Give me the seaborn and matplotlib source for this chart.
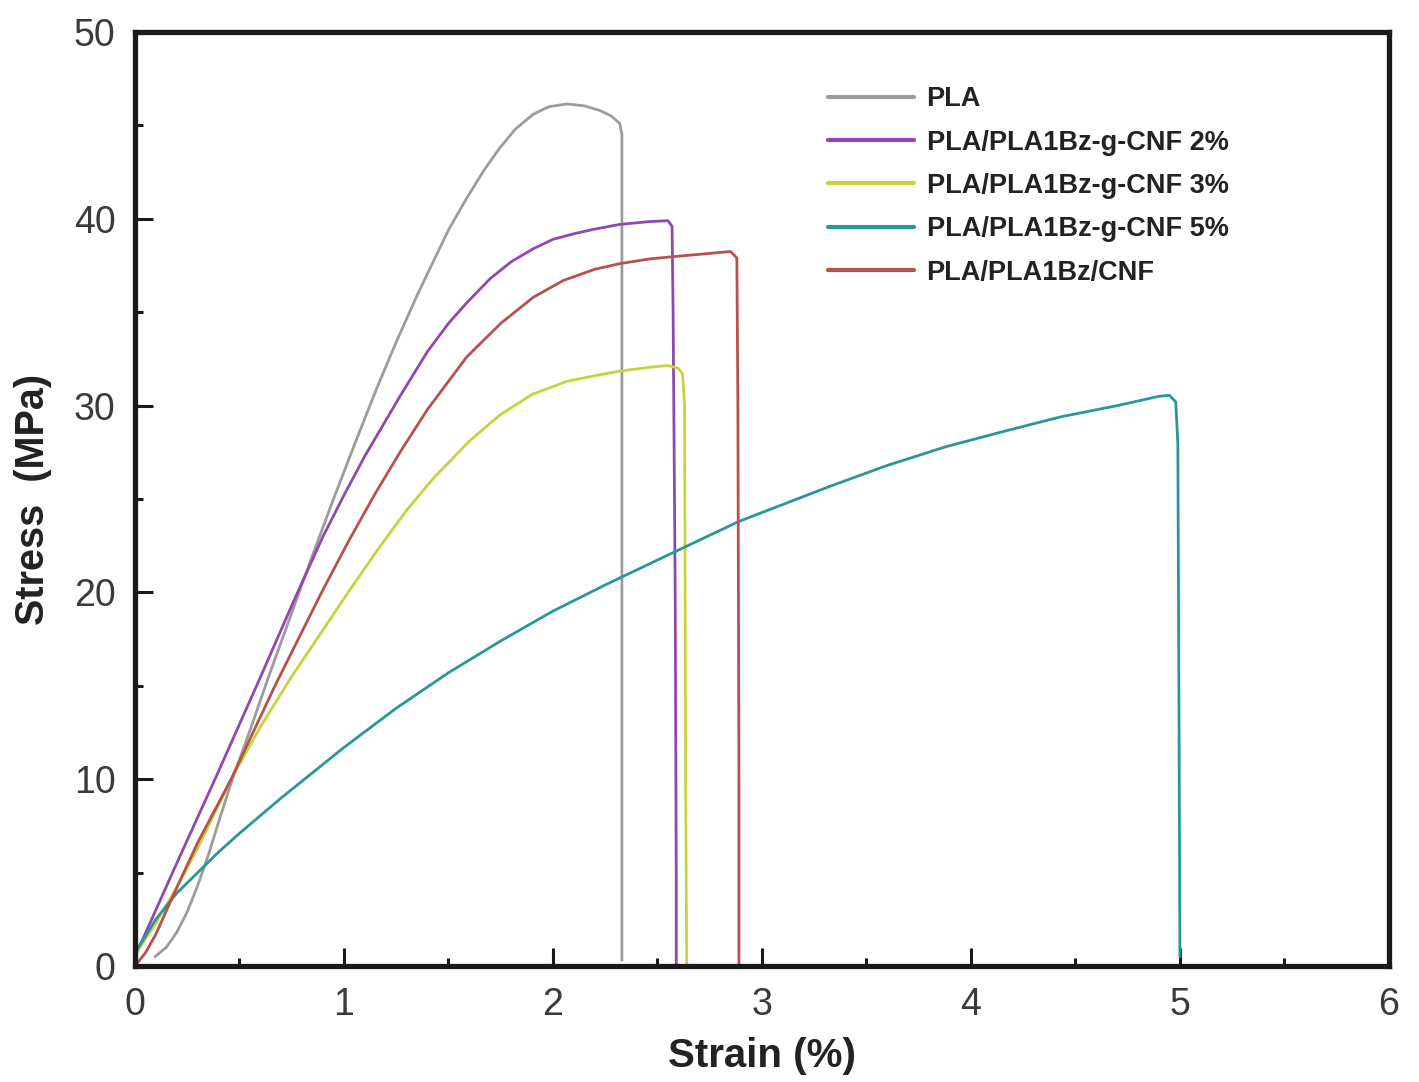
import numpy as np
import pandas as pd
import matplotlib
matplotlib.use("Agg")
import matplotlib.pyplot as plt
import seaborn as sns
from matplotlib.ticker import MultipleLocator

# stress-strain curves (strain %, stress MPa)
pla_x = [0.096, 0.15, 0.20, 0.25, 0.30, 0.35, 0.40, 0.46, 0.55, 0.64, 0.75, 0.85, 0.95, 1.05, 1.156, 1.25, 1.35,
         1.427, 1.50, 1.587, 1.67, 1.746, 1.82, 1.906, 1.98, 2.066, 2.15, 2.225, 2.28, 2.32, 2.33, 2.33]
pla_y = [0.5, 1.0, 1.8, 2.9, 4.3, 5.9, 7.7, 9.8, 12.6, 15.5, 18.9, 22.0, 25.0, 27.9, 30.9, 33.4, 35.9,
         37.7, 39.4, 41.1, 42.6, 43.8, 44.8, 45.6, 46.0, 46.15, 46.05, 45.8, 45.5, 45.1, 44.5, 0.3]

cnf2_x = [0.00, 0.10, 0.20, 0.383, 0.59, 0.766, 0.90, 1.00, 1.10, 1.268, 1.40, 1.50, 1.587, 1.70, 1.80, 1.906,
          2.00, 2.10, 2.20, 2.32, 2.46, 2.55, 2.57, 2.575, 2.585, 2.59, 2.59]
cnf2_y = [0.5, 3.0, 5.5, 10.0, 15.2, 19.7, 23.0, 25.2, 27.3, 30.5, 32.9, 34.4, 35.5, 36.8, 37.7, 38.4,
          38.9, 39.2, 39.45, 39.7, 39.85, 39.9, 39.6, 35.0, 20.0, 5.0, 0.0]

cnf3_x = [0.00, 0.10, 0.20, 0.30, 0.46, 0.60, 0.75, 0.90, 1.02, 1.156, 1.30, 1.427, 1.60, 1.746, 1.90, 2.066,
          2.20, 2.32, 2.46, 2.55, 2.60, 2.62, 2.63, 2.635, 2.64]
cnf3_y = [0.6, 2.3, 4.2, 6.3, 10.0, 12.8, 15.5, 18.0, 20.0, 22.2, 24.4, 26.1, 28.1, 29.5, 30.6, 31.3,
          31.6, 31.85, 32.05, 32.15, 32.0, 31.7, 30.0, 10.0, 0.0]

cnf5_x = [0.00, 0.05, 0.10, 0.20, 0.30, 0.40, 0.50, 0.70, 0.90, 1.00, 1.25, 1.50, 1.75, 2.00, 2.25, 2.55, 2.89,
          3.33, 3.60, 3.88, 4.15, 4.43, 4.70, 4.90, 4.95, 4.98, 4.99, 4.995, 5.00]
cnf5_y = [0.7, 1.6, 2.5, 3.9, 5.0, 6.1, 7.1, 9.0, 10.8, 11.7, 13.8, 15.7, 17.4, 19.0, 20.4, 22.0, 23.8,
          25.7, 26.8, 27.8, 28.6, 29.4, 30.0, 30.5, 30.55, 30.2, 28.0, 15.0, 0.5]

blend_x = [0.00, 0.05, 0.10, 0.20, 0.30, 0.46, 0.67, 0.893, 1.02, 1.15, 1.268, 1.40, 1.587, 1.75, 1.906, 2.05,
           2.20, 2.32, 2.46, 2.60, 2.75, 2.85, 2.88, 2.885, 2.89, 2.89]
blend_y = [0.0, 0.7, 1.7, 4.2, 6.6, 10.0, 15.0, 20.0, 22.7, 25.3, 27.5, 29.8, 32.6, 34.4, 35.8, 36.7,
           37.3, 37.6, 37.85, 38.0, 38.15, 38.25, 37.9, 30.0, 10.0, 0.0]

labels = ["PLA", "PLA/PLA1Bz-g-CNF 2%", "PLA/PLA1Bz-g-CNF 3%", "PLA/PLA1Bz-g-CNF 5%", "PLA/PLA1Bz/CNF"]
colors = ["#9c9c9c", "#9147b0", "#c6d43c", "#27979a", "#b8504c"]
series = [(pla_x, pla_y), (cnf2_x, cnf2_y), (cnf3_x, cnf3_y), (cnf5_x, cnf5_y), (blend_x, blend_y)]

sns.set_style("ticks")
plt.rcParams["font.family"] = ["Liberation Sans", "DejaVu Sans"]

fig = plt.figure(figsize=(14.19, 10.82), dpi=100)
ax = fig.add_axes([0.0951, 0.1072, 0.8837, 0.8632])

for (xs, ys), lab, col in zip(series, labels, colors):
    df = pd.DataFrame({"strain": xs, "stress": ys})
    sns.lineplot(data=df, x="strain", y="stress", sort=False, estimator=None,
                 color=col, linewidth=2.0, label=lab, ax=ax)

ax.set_xlim(0, 6)
ax.set_ylim(0, 50)
ax.xaxis.set_major_locator(MultipleLocator(1))
ax.xaxis.set_minor_locator(MultipleLocator(0.5))
ax.yaxis.set_major_locator(MultipleLocator(10))
ax.yaxis.set_minor_locator(MultipleLocator(5))

for sp in ax.spines.values():
    sp.set_linewidth(3.8)
    sp.set_color("#1a1a1a")

ax.tick_params(axis="both", which="both", direction="in", top=False, right=False,
               width=2.2, color="#1a1a1a")
ax.tick_params(axis="both", which="major", length=13, labelsize=27, labelcolor="#3a3a3a")
ax.tick_params(axis="both", which="minor", length=6)
ax.tick_params(axis="x", which="major", pad=15)
ax.tick_params(axis="y", which="major", pad=14)

ax.set_xlabel("Strain (%)", fontsize=29, fontweight="bold", color="#222222", labelpad=10)
ax.set_ylabel("Stress  (MPa)", fontsize=28.5, fontweight="bold", color="#222222", labelpad=16)

leg = ax.legend(loc="upper left", bbox_to_anchor=(0.533, 0.968), frameon=False,
                prop={"size": 19.5, "weight": "bold"}, handlelength=3.2,
                handletextpad=0.45, labelspacing=0.64)
for h in leg.get_lines():
    h.set_linewidth(3)
for t in leg.get_texts():
    t.set_color("#222222")

fig.savefig("out.png", dpi=100)
